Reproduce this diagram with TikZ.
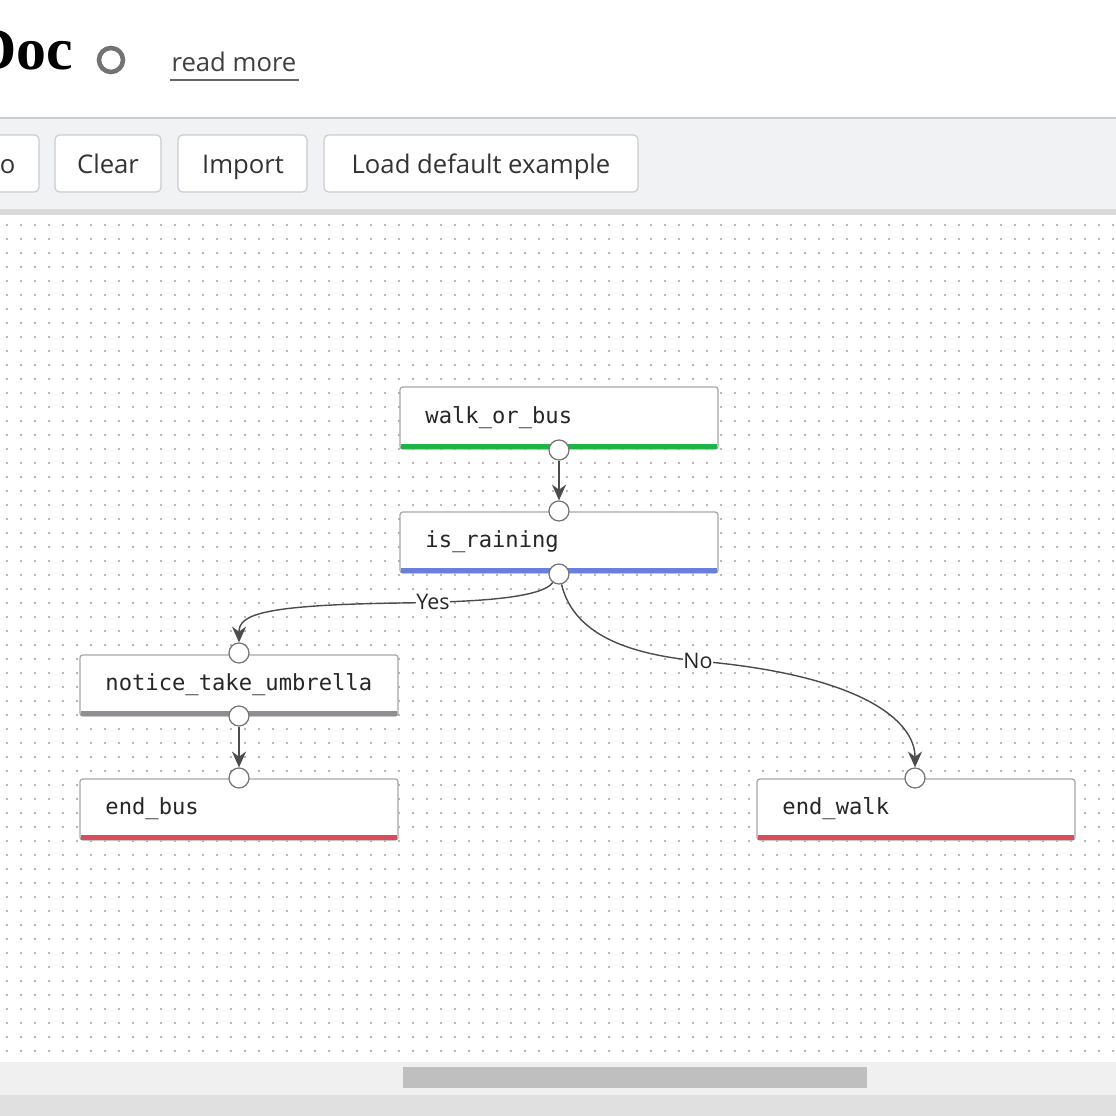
\documentclass[tikz,border=0pt]{standalone}
\usepackage{fontspec}
\setmainfont{Liberation Serif}
\setsansfont{Open Sans}
\setmonofont{DejaVu Sans Mono}
\usetikzlibrary{arrows.meta}
\definecolor{tb}{HTML}{F1F2F4}
\definecolor{bd}{HTML}{C9CCD1}
\definecolor{gr}{HTML}{1DB446}
\definecolor{bl}{HTML}{6A7FDB}
\definecolor{gy}{HTML}{8E8E93}
\definecolor{rd}{HTML}{DA4B5B}
\begin{document}
\begin{tikzpicture}[x=0.01cm,y=-0.01cm,
 btn/.style={draw=bd,fill=white,rounded corners=1.3pt,line width=0.35pt},
 btxt/.style={font=\sffamily\fontsize{7.3}{8}\selectfont,text=black!80,anchor=base,inner sep=0pt},
 box/.style={draw=black!35,fill=white,rounded corners=0.8pt,line width=0.35pt},
 lbl/.style={font=\ttfamily\fontsize{6.3}{7}\selectfont,anchor=west,text=black!85},
 port/.style={circle,draw=black!55,fill=white,line width=0.35pt,minimum size=0.2cm,inner sep=0pt},
 edge/.style={draw=black!70,line width=0.4pt,-{Stealth[length=4.5pt,width=4pt]}},
 elab/.style={font=\sffamily\fontsize{6.1}{7}\selectfont,fill=white,inner sep=0pt,text=black!85}]
\useasboundingbox (0,0) rectangle (1116,1116);
\fill[white] (0,0) rectangle (1116,1116);
% header
\node[anchor=base east,font=\fontsize{17}{18}\selectfont\bfseries,inner sep=0pt] (title) at (74,70) {Doc};
\node[circle,draw=black!55,line width=1.3pt,minimum size=0.24cm,inner sep=0pt] (gh) at (111,60) {};
\node[font=\sffamily\fontsize{7.3}{8}\selectfont,text=black!75] (rm) at (234,62) {read more};
\draw[black!60,line width=0.35pt] (170,80) -- (299,80);
% toolbar
\fill[tb] (0,118) rectangle (1116,210);
\draw[bd,line width=0.5pt] (0,118) -- (1116,118);
\draw[btn] (-20,135) rectangle (39,192);
\node[btxt,anchor=base east] (bo) at (16,174) {o};
\draw[btn] (55,135) rectangle (161,192);
\node[btxt] (b1) at (108,174) {Clear};
\draw[btn] (178,135) rectangle (307,192);
\node[btxt] (b2) at (243,174) {Import};
\draw[btn] (324,135) rectangle (638,192);
\node[btxt] (b3) at (481,174) {Load default example};
\fill[black!15] (0,209) rectangle (1116,215);
% dots
\foreach \i in {0,...,79}{\foreach \j in {0,...,59}{
 \fill[black!38] (7+\i*14,225+\j*14) circle (1.1);}}
% scrollbar
\fill[black!6] (0,1062) rectangle (1116,1095);
\fill[black!25] (403,1067) rectangle (867,1088);
\fill[black!12] (0,1095) rectangle (1116,1116);
% nodes
\draw[box] (400,387) rectangle (718,449);
\fill[gr] (401,444) rectangle (717,449);
\node[lbl] (n1) at (413,418) {walk\_or\_bus};
\draw[box] (400,512) rectangle (718,573);
\fill[bl] (401,568) rectangle (717,573);
\node[lbl] (n2) at (413,542) {is\_raining};
\draw[box] (80,655) rectangle (398,716);
\fill[gy] (81,711) rectangle (397,716);
\node[lbl] (n3) at (93,685) {notice\_take\_umbrella};
\draw[box] (80,779) rectangle (398,840);
\fill[rd] (81,835) rectangle (397,840);
\node[lbl] (n4) at (93,809) {end\_bus};
\draw[box] (757,779) rectangle (1075,840);
\fill[rd] (758,835) rectangle (1074,840);
\node[lbl] (n5) at (770,809) {end\_walk};
% ports
\node[port] (p1o) at (559,450) {};
\node[port] (p2i) at (559,511) {};
\node[port] (p2o) at (559,574) {};
\node[port] (p3i) at (239,653) {};
\node[port] (p3o) at (239,716) {};
\node[port] (p4i) at (239,778) {};
\node[port] (p5i) at (915,778) {};
% edges
\draw[edge] (p1o) -- (p2i);
\draw[edge] (p3o) -- (p4i);
\draw[edge] (p2o) .. controls (540,600) and (460,602) .. (400,603) .. controls (260,605) and (239,615) .. (p3i);
\node[elab] (yes) at (433,602) {Yes};
\draw[edge] (p2o) .. controls (575,640) and (640,655) .. (698,661) .. controls (860,675) and (915,720) .. (p5i);
\node[elab] (no) at (698,661) {No};
\end{tikzpicture}
\end{document}
